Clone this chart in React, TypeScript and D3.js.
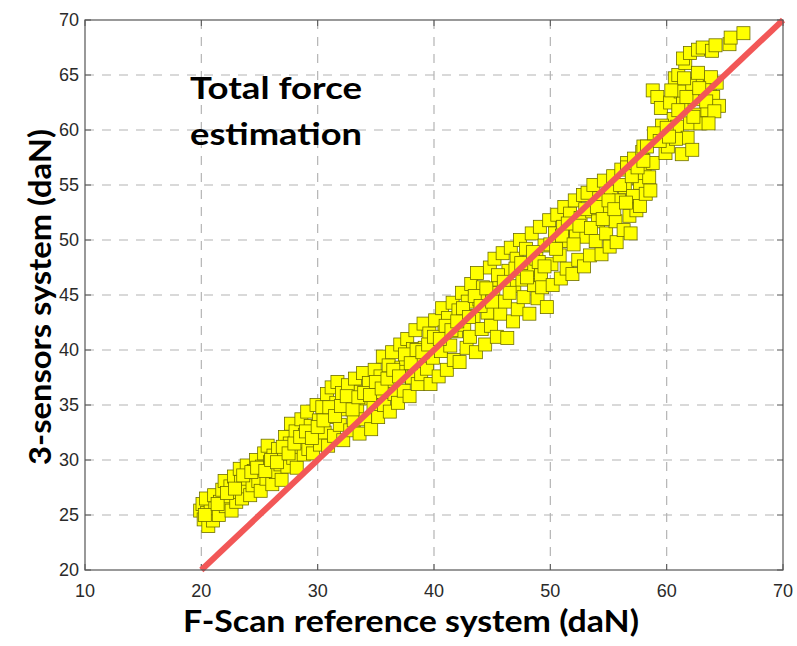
import * as d3 from "d3";

// F-Scan reference (x) vs 3-sensors system (y), daN
const samples: [number, number][] = [
    [19.9, 25.4], [20.2, 24.6], [20.1, 26.0], [20.5, 25.2], [20.6, 24.0], [20.8, 25.8], [20.4, 26.5], [21.0, 24.5], [21.2, 25.6], [21.1, 26.8],
    [21.5, 25.0], [21.6, 26.2], [21.8, 27.3], [22.0, 28.1], [22.1, 25.8], [22.3, 26.7], [22.5, 27.6], [22.6, 25.4], [22.8, 28.5], [23.0, 26.2], [23.1, 27.1],
    [23.3, 29.2], [23.4, 28.0], [23.5, 26.5], [23.7, 27.6], [23.9, 29.5], [24.0, 28.3], [24.2, 26.8], [24.4, 27.7], [24.5, 29.0], [24.7, 30.0], [24.9, 28.1],
    [25.1, 27.2], [25.2, 29.4], [25.4, 30.6], [25.6, 28.3], [25.7, 31.3], [25.9, 29.8], [26.1, 27.8], [26.2, 30.4], [26.4, 28.9], [26.6, 31.0], [26.8, 29.6], [26.9, 28.2],
    [27.1, 30.8], [27.2, 32.1], [27.4, 29.4], [27.6, 31.5], [27.7, 33.3], [27.9, 30.2], [28.1, 32.6], [28.2, 29.3], [28.4, 31.2], [28.6, 33.7], [28.8, 30.5], [28.9, 32.3],
    [29.1, 34.4], [29.2, 31.0], [29.4, 33.1], [29.6, 30.6], [29.7, 32.2], [29.9, 35.0], [30.1, 33.6], [30.2, 31.4], [30.4, 34.8], [30.6, 32.5], [30.8, 36.0], [30.9, 31.3],
    [31.1, 33.9], [31.2, 36.6], [31.4, 32.2], [31.6, 35.2], [31.7, 37.1], [31.9, 33.2], [32.1, 36.1], [32.2, 31.8], [32.4, 34.6], [32.6, 36.8], [32.8, 32.7], [32.9, 35.3],
    [33.1, 33.6], [33.2, 37.4], [33.4, 34.7], [33.6, 32.4], [33.7, 36.2], [33.9, 37.9], [34.1, 33.7], [34.2, 35.6], [34.4, 37.0], [34.6, 32.8], [34.8, 34.8], [34.9, 38.2],
    [35.1, 36.1], [35.2, 33.9], [35.4, 37.6], [35.6, 39.4], [35.7, 35.0], [35.9, 36.9], [36.1, 38.6], [36.2, 34.4], [36.4, 39.8], [36.6, 36.0], [36.8, 37.7], [36.9, 35.2],
    [37.1, 40.5], [37.2, 38.4], [37.4, 36.3], [37.6, 39.2], [37.7, 41.0], [37.9, 35.8], [38.1, 37.5], [38.2, 40.1], [38.4, 41.8], [38.6, 36.9], [38.8, 39.0], [38.9, 37.8],
    [39.1, 42.4], [39.2, 40.2], [39.4, 38.3], [39.6, 41.5], [39.7, 36.9], [39.9, 39.3], [40.1, 42.7], [40.2, 40.8], [40.4, 37.6], [40.6, 39.9], [40.7, 43.8], [40.9, 41.6],
    [41.1, 38.2], [41.2, 42.9], [41.4, 40.4], [41.6, 44.3], [41.7, 39.1], [41.9, 41.7], [42.1, 43.6], [42.2, 38.9], [42.4, 45.2], [42.6, 42.3], [42.8, 40.2], [42.9, 44.4],
    [43.1, 41.2], [43.2, 46.0], [43.4, 43.1], [43.6, 39.8], [43.7, 47.0], [43.9, 44.6], [44.1, 41.9], [44.2, 45.7], [44.4, 40.5], [44.6, 43.4], [44.8, 47.5], [44.9, 42.2],
    [45.1, 45.2], [45.2, 48.3], [45.4, 41.2], [45.6, 46.4], [45.7, 43.3], [45.9, 48.8], [46.1, 44.4], [46.3, 41.1], [46.4, 47.2], [46.6, 49.3], [46.8, 42.6], [46.9, 45.8],
    [47.1, 48.3], [47.2, 43.7], [47.4, 50.0], [47.6, 46.4], [47.7, 44.8], [47.9, 49.2], [48.1, 47.3], [48.2, 43.3], [48.4, 50.6], [48.6, 45.9], [48.8, 48.3], [48.9, 44.7],
    [49.1, 51.2], [49.2, 46.8], [49.3, 45.7], [49.5, 49.5], [49.7, 43.9], [49.9, 51.8], [50.1, 47.8], [50.2, 45.9], [50.4, 50.6], [50.6, 52.3], [50.8, 48.6], [50.9, 46.5],
    [51.1, 51.2], [51.2, 53.0], [51.4, 47.4], [51.6, 49.9], [51.7, 52.4], [51.9, 46.9], [52.1, 53.6], [52.2, 50.7], [52.4, 48.2], [52.6, 52.0], [52.8, 54.1], [52.9, 47.6],
    [53.1, 50.3], [53.2, 54.3], [53.4, 48.6], [53.6, 52.6], [53.7, 55.0], [53.9, 49.9], [54.1, 51.7], [54.2, 53.8], [54.4, 48.7], [54.6, 55.4], [54.8, 50.6], [54.9, 52.9],
    [55.1, 49.4], [55.2, 54.4], [55.4, 55.8], [55.6, 51.7], [55.7, 49.8], [55.9, 53.6], [56.1, 56.4], [56.3, 50.9], [56.4, 54.8], [56.6, 57.0], [56.6, 56.6], [56.8, 52.2], [56.9, 50.6],
    [57.1, 54.0], [57.2, 57.4], [57.4, 52.7], [57.6, 55.6], [57.7, 55.2], [57.7, 53.1], [57.9, 58.0], [58.0, 58.5], [58.1, 56.1], [58.2, 54.2], [58.3, 58.5], [58.5, 55.7], [58.6, 54.5], [58.8, 57.0],
    [20.3, 25.0], [21.4, 26.0], [22.2, 27.0], [22.9, 27.4], [23.6, 28.6], [24.3, 28.9], [24.8, 29.3],
    [25.5, 29.0], [26.0, 30.0], [26.5, 29.8], [27.0, 31.2], [27.5, 30.6], [28.0, 31.5], [28.5, 32.1], [29.0, 32.6], [29.5, 32.0], [30.0, 33.0],
    [30.5, 33.6], [31.0, 34.8], [31.5, 34.0], [32.0, 34.9], [32.5, 35.8], [33.0, 34.6], [33.5, 35.7], [34.0, 36.1], [34.5, 35.9], [35.0, 37.1],
    [35.5, 36.5], [36.0, 37.4], [36.5, 38.2], [37.0, 37.6], [37.5, 39.6], [38.0, 38.8], [38.5, 40.0], [39.0, 39.8], [39.5, 40.5], [40.0, 41.2],
    [40.5, 41.0], [41.0, 42.2], [41.5, 41.8], [42.0, 42.6], [42.5, 43.8], [43.0, 43.0], [43.5, 44.9], [44.0, 44.0], [44.5, 45.6], [45.0, 44.4],
    [45.5, 46.8], [46.0, 46.2], [46.5, 45.2], [47.0, 47.4], [47.5, 47.9], [48.0, 46.6], [48.5, 48.9], [49.0, 48.0], [49.5, 47.6], [50.0, 49.6],
    [50.5, 49.2], [51.0, 50.4], [51.5, 51.5], [52.0, 49.6], [52.5, 51.3], [53.0, 52.8], [53.5, 51.1], [54.0, 53.0], [54.5, 51.9], [55.0, 53.6],
    [55.5, 52.8], [56.0, 55.0], [56.5, 53.4], [57.0, 55.8], [57.5, 56.6], [58.0, 57.2],
    [58.8, 63.6], [59.2, 63.0], [59.5, 62.0], [59.9, 57.9], [60.1, 58.5], [60.3, 62.5], [60.6, 61.0], [60.9, 60.3], [60.7, 64.7], [61.0, 65.0], [61.2, 63.5], [61.4, 62.4],
    [61.6, 66.1], [61.8, 59.3], [62.0, 60.6], [62.2, 64.2], [62.4, 62.8], [62.6, 61.4], [62.9, 60.6], [63.1, 64.6], [63.3, 63.2], [63.5, 61.8], [63.7, 63.9], [64.0, 63.0],
    [64.3, 64.3], [64.5, 62.2], [63.8, 64.8], [62.7, 65.2], [61.5, 64.7], [60.4, 63.6], [59.6, 60.4], [58.9, 59.7], [59.4, 59.0], [60.8, 59.2], [61.3, 57.8], [62.2, 58.2],
    [60.0, 60.2], [61.0, 61.8], [61.7, 63.0], [62.3, 61.2], [62.8, 63.8], [63.4, 62.6], [64.1, 61.7], [60.2, 59.4], [63.6, 60.6],
    [61.4, 66.5], [62.0, 67.0], [62.7, 67.3], [63.1, 67.5], [63.9, 67.2], [64.2, 67.7], [65.4, 67.8], [65.5, 68.4], [66.6, 68.8],
];

const xTicks = [10, 20, 30, 40, 50, 60, 70];
const yTicks = [20, 25, 30, 35, 40, 45, 50, 55, 60, 65, 70];
const identityLine: [number, number][] = [[20, 20], [70, 70]];

const W = 797;
const H = 646;
const left = 85;
const right = 783;
const top = 20;
const bottom = 570;
const box = 13;

export default function App() {
    const x = d3.scaleLinear([10, 70], [left, right]);
    const y = d3.scaleLinear([20, 70], [bottom, top]);
    const line = d3.line<[number, number]>((d) => x(d[0]), (d) => y(d[1]));
    const titleFont = "Lato, 'Open Sans', sans-serif";
    const tickFont = "'Liberation Sans', Arial, sans-serif";

    return (
        <svg
            width={W}
            height={H}
            style={{ position: "absolute", left: 0, top: 0, background: "#fff" }}
        >
            {/* grid */}
            <g stroke="#b4b4b4" strokeWidth={1.2} strokeDasharray="9,8">
                {xTicks.slice(1, -1).map((t) => (
                    <line key={"gx" + t} x1={x(t)} x2={x(t)} y1={top} y2={bottom} />
                ))}
                {yTicks.slice(1, -1).map((t) => (
                    <line key={"gy" + t} x1={left} x2={right} y1={y(t)} y2={y(t)} />
                ))}
            </g>
            {/* inward ticks */}
            <g stroke="#555" strokeWidth={1}>
                {xTicks.map((t) => (
                    <g key={"tx" + t}>
                        <line x1={x(t)} x2={x(t)} y1={bottom} y2={bottom - 6} />
                        <line x1={x(t)} x2={x(t)} y1={top} y2={top + 6} />
                    </g>
                ))}
                {yTicks.map((t) => (
                    <g key={"ty" + t}>
                        <line x1={left} x2={left + 6} y1={y(t)} y2={y(t)} />
                        <line x1={right} x2={right - 6} y1={y(t)} y2={y(t)} />
                    </g>
                ))}
            </g>
            {/* points */}
            <g fill="#ffff00" stroke="#6e6e00" strokeWidth={0.8}>
                {samples.map((d, i) => (
                    <rect
                        key={i}
                        x={x(d[0]) - box / 2}
                        y={y(d[1]) - box / 2}
                        width={box}
                        height={box}
                    />
                ))}
            </g>
            <path
                d={line(identityLine) || ""}
                fill="none"
                stroke="#f25757"
                strokeWidth={6}
            />
            <rect
                x={left}
                y={top}
                width={right - left}
                height={bottom - top}
                fill="none"
                stroke="#555"
                strokeWidth={1.2}
            />
            {/* tick labels */}
            <g fontFamily={tickFont} fontSize={18} fill="#2a2a2a">
                {xTicks.map((t) => (
                    <text key={"lx" + t} x={x(t)} y={597} textAnchor="middle">
                        {t}
                    </text>
                ))}
                {yTicks.map((t) => (
                    <text
                        key={"ly" + t}
                        x={79}
                        y={y(t)}
                        textAnchor="end"
                        dominantBaseline="central"
                    >
                        {t}
                    </text>
                ))}
            </g>
            {/* titles */}
            <g fontFamily={titleFont} fontWeight="bold" fontSize={31} fill="#000">
                <text x={411} y={632} textAnchor="middle" textLength={456} lengthAdjust="spacingAndGlyphs">
                    F-Scan reference system (daN)
                </text>
                <text
                    transform="translate(51,297) rotate(-90)"
                    textAnchor="middle"
                    textLength={336}
                    lengthAdjust="spacingAndGlyphs"
                >
                    3-sensors system (daN)
                </text>
                <text x={190} y={99} textLength={172} lengthAdjust="spacingAndGlyphs">
                    Total force
                </text>
                <text x={190} y={145} textLength={172} lengthAdjust="spacingAndGlyphs">
                    estimation
                </text>
            </g>
        </svg>
    );
}
